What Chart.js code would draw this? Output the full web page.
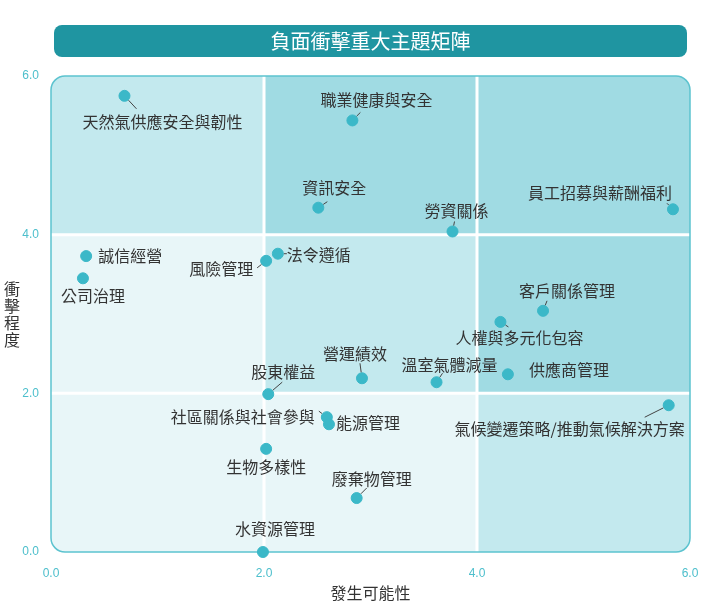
<!DOCTYPE html>
<html lang="zh-Hant">
<head>
<meta charset="utf-8">
<title>負面衝擊重大主題矩陣</title>
<script src="https://cdn.jsdelivr.net/npm/chart.js@4/dist/chart.umd.min.js"></script>
<style>
  html, body { margin:0; padding:0; background:#fff; }
  #wrap { position:relative; width:707px; height:603px; }
  #titleBar {
    position:absolute; left:54px; top:25px; width:633px; height:32px;
    background:#1f95a1; border-radius:8px; color:#fff;
    font:20px "Noto Sans CJK TC", sans-serif; line-height:32px; text-align:center;
  }
  canvas { position:absolute; left:0; top:0; }
</style>
</head>
<body>
<div id="wrap">
  <canvas id="matrix" width="707" height="603"></canvas>
  <div id="titleBar">負面衝擊重大主題矩陣</div>
</div>
<script>
// ── Data ───────────────────────────────────────
const topics = [
  '天然氣供應安全與韌性','職業健康與安全','資訊安全','勞資關係','員工招募與薪酬福利',
  '誠信經營','公司治理','風險管理','法令遵循','客戶關係管理',
  '人權與多元化包容','營運績效','溫室氣體減量','供應商管理','股東權益',
  '社區關係與社會參與','能源管理','氣候變遷策略/推動氣候解決方案','生物多樣性','廢棄物管理',
  '水資源管理'
];
const likelihood = [0.69, 2.83, 2.51, 3.77, 5.84, 0.33, 0.30, 2.02, 2.13, 4.62,
                    4.22, 2.92, 3.62, 4.29, 2.04, 2.59, 2.61, 5.80, 2.02, 2.87, 1.99];
const impact     = [5.75, 5.44, 4.34, 4.04, 4.32, 3.73, 3.45, 3.67, 3.76, 3.04,
                    2.90, 2.19, 2.14, 2.24, 1.99, 1.70, 1.61, 1.85, 1.30, 0.68, 0.00];
const tickValues = [0, 2, 4, 6];
const xTitle = '發生可能性';
const yTitle = '衝擊程度';

// ── Label layout (px offsets from the point: label centre, leader end) ──
const labelOffset = [
  [38,26],[24,-21],[16,-20],[4,-21],[-73,-16],
  [44,0],[10,18],[-45,8],[41,1],[24,-20],
  [19,16],[-7,-24],[13,-17],[61,-4],[15,-22],
  [-84,0],[39,-1],[-99,24],[0,18],[15,-19],
  [12,-23]
];
const leaderEnd = [
  [12,13],[8,-8],[9,-6],[2,-10],[-6,-6],
  null,null,[-9,7],[9,0],[4,-10],
  [8,5],[-2,-15],[6,-9],null,[14,-12],
  [-8,-6],null,[-24,12],null,[10,-10],
  null
];

const CJK = '"Noto Sans CJK TC", sans-serif';
const shade = ['#e8f6f8', '#e8f6f8', '#c3e9ee', '#a0dbe3', '#a0dbe3'];

// ── Quadrant background + frame ────────────────
const matrixBg = {
  id: 'matrixBg',
  beforeDatasetsDraw(chart) {
    const { ctx, chartArea: a, scales: { x, y } } = chart;
    ctx.save();
    ctx.beginPath();
    ctx.roundRect(a.left, a.top, a.right - a.left, a.bottom - a.top, 14);
    ctx.clip();
    for (let i = 0; i < tickValues.length - 1; i++) {
      for (let j = 0; j < tickValues.length - 1; j++) {
        const x0 = x.getPixelForValue(tickValues[i]), x1 = x.getPixelForValue(tickValues[i + 1]);
        const y0 = y.getPixelForValue(tickValues[j + 1]), y1 = y.getPixelForValue(tickValues[j]);
        ctx.fillStyle = shade[i + j];
        ctx.fillRect(x0, y0, x1 - x0, y1 - y0);
      }
    }
    ctx.strokeStyle = '#ffffff';
    ctx.lineWidth = 3;
    tickValues.slice(1, -1).forEach(v => {
      const px = x.getPixelForValue(v), py = y.getPixelForValue(v);
      ctx.beginPath(); ctx.moveTo(px, a.top); ctx.lineTo(px, a.bottom); ctx.stroke();
      ctx.beginPath(); ctx.moveTo(a.left, py); ctx.lineTo(a.right, py); ctx.stroke();
    });
    ctx.restore();
    ctx.save();
    ctx.strokeStyle = '#5cc3cf';
    ctx.lineWidth = 1.5;
    ctx.beginPath();
    ctx.roundRect(a.left, a.top, a.right - a.left, a.bottom - a.top, 14);
    ctx.stroke();
    ctx.restore();
  }
};

// ── Point labels + axis titles ─────────────────
const pointLabels = {
  id: 'pointLabels',
  afterDatasetsDraw(chart) {
    const { ctx, chartArea: a } = chart;
    const meta = chart.getDatasetMeta(0);
    ctx.save();
    meta.data.forEach((pt, i) => {
      const end = leaderEnd[i];
      if (end) {
        const len = Math.hypot(end[0], end[1]);
        const s = 6 / len;
        ctx.strokeStyle = '#444';
        ctx.lineWidth = 1;
        ctx.beginPath();
        ctx.moveTo(pt.x + end[0] * s, pt.y + end[1] * s);
        ctx.lineTo(pt.x + end[0], pt.y + end[1]);
        ctx.stroke();
      }
      ctx.fillStyle = '#333';
      ctx.font = '16px ' + CJK;
      ctx.textAlign = 'center';
      ctx.textBaseline = 'middle';
      ctx.fillText(topics[i], pt.x + labelOffset[i][0], pt.y + labelOffset[i][1]);
    });
    // axis titles
    ctx.fillStyle = '#333';
    ctx.font = '16px ' + CJK;
    ctx.textAlign = 'center';
    ctx.textBaseline = 'middle';
    ctx.fillText(xTitle, (a.left + a.right) / 2, a.bottom + 41);
    const chars = Array.from(yTitle);
    const midY = (a.top + a.bottom) / 2;
    chars.forEach((c, k) => {
      ctx.fillText(c, 12, midY + (k - (chars.length - 1) / 2) * 17);
    });
    ctx.restore();
  }
};

// ── Chart ──────────────────────────────────────
new Chart(document.getElementById('matrix').getContext('2d'), {
  type: 'scatter',
  data: {
    datasets: [{
      label: '負面衝擊',
      data: topics.map((t, i) => ({ x: likelihood[i], y: impact[i] })),
      backgroundColor: '#3bb8c8',
      borderColor: '#3bb8c8',
      pointRadius: 5.5,
      pointHoverRadius: 5.5,
      clip: false
    }]
  },
  options: {
    responsive: false,
    animation: false,
    layout: { padding: { top: 76, right: 17, left: 0, bottom: 0 } },
    plugins: { legend: { display: false }, tooltip: { enabled: false } },
    scales: {
      x: {
        type: 'linear', min: 0, max: 6,
        afterBuildTicks: s => { s.ticks = tickValues.map(v => ({ value: v })); },
        afterFit: s => { s.height = 51; s.paddingLeft = 0; s.paddingRight = 0; },
        grid: { display: false, drawTicks: false }, border: { display: false },
        ticks: { color: '#4dbfcc', font: { size: 12 }, padding: 14, callback: v => v.toFixed(1) }
      },
      y: {
        type: 'linear', min: 0, max: 6,
        afterBuildTicks: s => { s.ticks = tickValues.map(v => ({ value: v })); },
        afterFit: s => { s.width = 51; s.paddingTop = 0; s.paddingBottom = 0; },
        grid: { display: false, drawTicks: false }, border: { display: false },
        ticks: { color: '#4dbfcc', font: { size: 12 }, padding: 12, callback: v => v.toFixed(1) }
      }
    }
  },
  plugins: [matrixBg, pointLabels]
});
</script>
</body>
</html>
